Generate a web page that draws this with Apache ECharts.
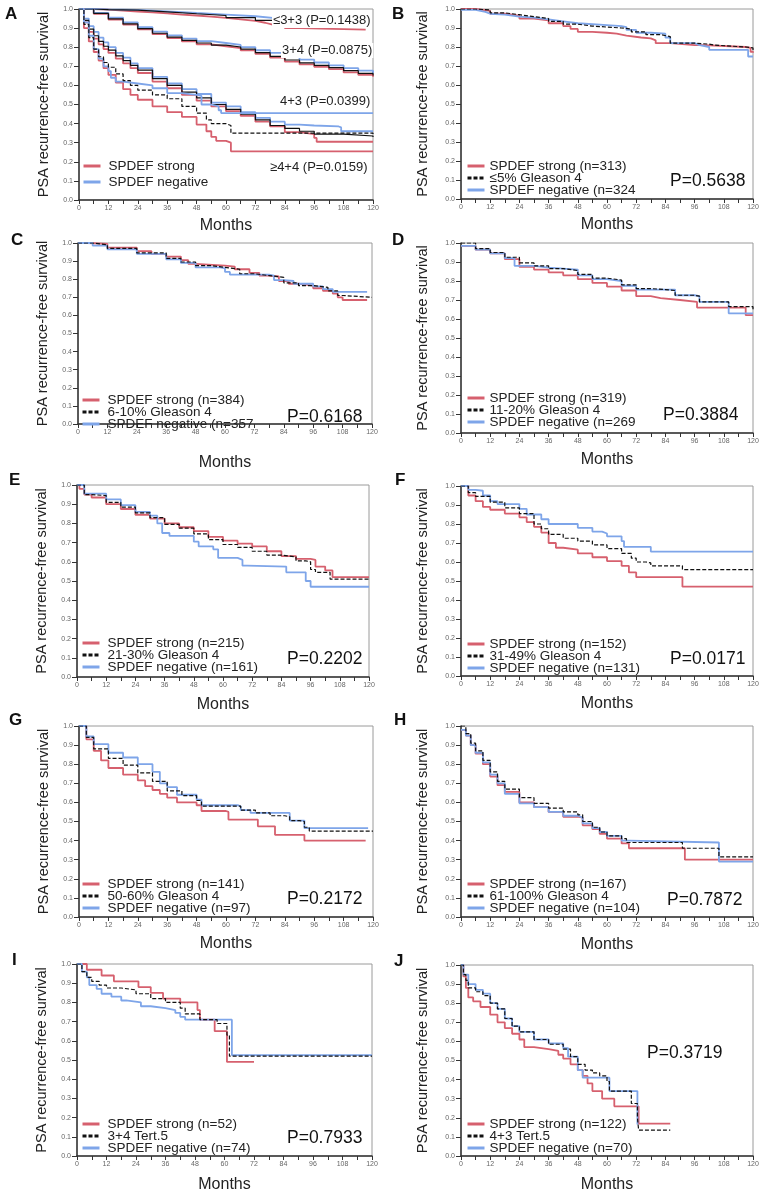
<!DOCTYPE html>
<html><head><meta charset="utf-8">
<script src="https://cdn.jsdelivr.net/npm/echarts@6/dist/echarts.min.js"></script>
<style>html,body{margin:0;padding:0;background:#fff}#c{width:765px;height:1195px}</style>
</head><body><div id="c"></div>
<script>
// ---------- tick labels ----------
const xTicks = [0, 12, 24, 36, 48, 60, 72, 84, 96, 108, 120];
const yTicks = [0.0, 0.1, 0.2, 0.3, 0.4, 0.5, 0.6, 0.7, 0.8, 0.9, 1.0];
const panelLetters = ['A', 'B', 'C', 'D', 'E', 'F', 'G', 'H', 'I', 'J'];

// ---------- panel A (Gleason groups) ----------
const aLabels = ['\u22643+3 (P=0.1438)', '3+4 (P=0.0875)', '4+3 (P=0.0399)', '\u22654+4 (P=0.0159)'];
const a33Strong = [[0,1],[6,0.997],[12,0.992],[18,0.987],[24,0.982],[30,0.977],[36,0.971],[42,0.966],[48,0.96],[54,0.953],[60,0.946],[66,0.938],[72,0.928],[76,0.918],[79,0.911],[84,0.9],[90,0.892],[117,0.89]];
const a33Neg = [[0,1],[6,0.998],[12,0.995],[24,0.988],[36,0.979],[48,0.971],[60,0.962],[72,0.952],[80,0.942],[95,0.935],[105,0.93]];
const a33All = [[0,1],[6,0.997],[12,0.994],[24,0.985],[36,0.975],[48,0.966],[60,0.955],[72,0.94],[80,0.928],[95,0.92],[110,0.915]];
const a34Strong = [[0,1],[6,0.975],[12,0.945],[18,0.918],[24,0.893],[30,0.868],[36,0.848],[42,0.83],[48,0.815],[54,0.805],[60,0.795],[66,0.783],[72,0.765],[78,0.745],[84,0.725],[90,0.71],[96,0.697],[102,0.685],[108,0.668],[114,0.655],[120,0.645]];
const a34All = [[0,1],[6,0.977],[12,0.948],[18,0.922],[24,0.897],[30,0.873],[36,0.853],[42,0.836],[48,0.822],[54,0.811],[60,0.801],[66,0.79],[72,0.772],[78,0.752],[84,0.733],[90,0.718],[96,0.705],[102,0.693],[108,0.677],[114,0.663],[120,0.652]];
const a34Neg = [[0,1],[6,0.98],[12,0.955],[18,0.93],[24,0.905],[30,0.882],[36,0.862],[42,0.845],[48,0.832],[54,0.822],[60,0.812],[66,0.8],[72,0.784],[78,0.77],[84,0.752],[90,0.735],[96,0.72],[102,0.705],[108,0.69],[114,0.677],[120,0.665]];
const a43Strong = [[0,1],[2,0.93],[4,0.88],[6,0.845],[8,0.815],[10,0.79],[12,0.77],[15,0.74],[18,0.715],[21,0.69],[24,0.665],[30,0.62],[36,0.585],[42,0.55],[48,0.52],[54,0.49],[60,0.465],[66,0.44],[72,0.41],[78,0.385],[84,0.355],[90,0.345],[96,0.325],[97,0.305],[120,0.305]];
const a43Neg = [[0,1],[2,0.95],[4,0.91],[6,0.88],[8,0.85],[10,0.825],[12,0.8],[15,0.77],[18,0.745],[21,0.715],[24,0.69],[30,0.645],[36,0.61],[42,0.58],[48,0.555],[54,0.51],[60,0.49],[66,0.46],[72,0.43],[78,0.41],[84,0.395],[90,0.39],[96,0.385],[106,0.38],[107,0.36],[120,0.36]];
const a43All = [[0,1],[2,0.94],[4,0.895],[6,0.86],[8,0.83],[10,0.805],[12,0.785],[15,0.755],[18,0.73],[21,0.705],[24,0.68],[30,0.635],[36,0.6],[42,0.565],[48,0.535],[54,0.5],[60,0.475],[66,0.45],[72,0.42],[78,0.39],[84,0.375],[90,0.36],[96,0.345],[108,0.335],[120,0.33]];
const a44Strong = [[0,1],[2,0.9],[4,0.83],[6,0.775],[8,0.73],[10,0.69],[12,0.655],[15,0.615],[18,0.58],[21,0.55],[24,0.525],[30,0.49],[36,0.46],[42,0.435],[48,0.395],[52,0.36],[54,0.33],[56,0.31],[60,0.3],[62,0.255],[120,0.255]];
const a44Neg = [[0,1],[2,0.93],[4,0.86],[6,0.79],[8,0.74],[10,0.7],[12,0.675],[13,0.64],[15,0.62],[18,0.61],[24,0.6],[30,0.585],[36,0.56],[42,0.55],[48,0.545],[50,0.5],[54,0.49],[57,0.47],[58,0.455],[120,0.455]];
const a44All = [[0,1],[2,0.92],[4,0.85],[6,0.79],[8,0.75],[10,0.72],[12,0.695],[15,0.66],[18,0.625],[21,0.6],[24,0.575],[30,0.55],[36,0.53],[42,0.49],[48,0.455],[52,0.42],[54,0.4],[60,0.39],[62,0.35],[120,0.345]];

// ---------- panels B-J: legend labels and P values ----------
const strongLabels = ['SPDEF strong (n=313)','SPDEF strong (n=384)','SPDEF strong (n=319)','SPDEF strong (n=215)','SPDEF strong (n=152)','SPDEF strong (n=141)','SPDEF strong (n=167)','SPDEF strong (n=52)','SPDEF strong (n=122)'];
const groupLabels = ['\u22645% Gleason 4','6-10% Gleason 4','11-20% Gleason 4','21-30% Gleason 4','31-49% Gleason 4','50-60% Gleason 4','61-100% Gleason 4','3+4 Tert.5','4+3 Tert.5'];
const negLabels = ['SPDEF negative (n=324','SPDEF negative (n=357','SPDEF negative (n=269','SPDEF negative (n=161)','SPDEF negative (n=131)','SPDEF negative (n=97)','SPDEF negative (n=104)','SPDEF negative (n=74)','SPDEF negative (n=70)'];
const pValues = ['P=0.5638','P=0.6168','P=0.3884','P=0.2202','P=0.0171','P=0.2172','P=0.7872','P=0.7933','P=0.3719'];

// B
const bStrong = [[0,1],[6,0.99],[12,0.975],[18,0.965],[24,0.95],[30,0.94],[36,0.925],[42,0.91],[45,0.895],[48,0.88],[54,0.875],[60,0.87],[64,0.86],[68,0.85],[74,0.845],[78,0.835],[80,0.82],[86,0.81],[96,0.81],[100,0.8],[117,0.795],[119,0.775],[120,0.77]];
const bAll = [[0,1],[6,0.995],[12,0.98],[18,0.97],[24,0.96],[30,0.95],[36,0.935],[42,0.92],[48,0.91],[54,0.905],[60,0.9],[66,0.895],[70,0.88],[76,0.865],[82,0.855],[86,0.82],[96,0.815],[102,0.81],[104,0.8],[117,0.795],[120,0.775]];
const bNeg = [[0,0.995],[6,0.985],[10,0.975],[12,0.97],[18,0.96],[24,0.955],[30,0.945],[36,0.935],[42,0.925],[48,0.915],[60,0.91],[66,0.905],[68,0.89],[72,0.875],[78,0.87],[84,0.85],[86,0.82],[96,0.81],[98,0.8],[102,0.785],[117,0.785],[118,0.75],[120,0.75]];
// C
const cStrong = [[0,1],[4,0.995],[12,0.975],[24,0.955],[30,0.94],[36,0.925],[42,0.905],[45,0.885],[48,0.875],[60,0.87],[64,0.855],[70,0.835],[74,0.82],[78,0.815],[82,0.79],[86,0.775],[90,0.765],[96,0.75],[100,0.735],[104,0.72],[106,0.7],[108,0.685],[118,0.685]];
const cAll = [[0,1],[6,0.99],[12,0.97],[24,0.945],[36,0.915],[42,0.895],[48,0.875],[54,0.865],[60,0.855],[66,0.83],[72,0.82],[78,0.81],[84,0.78],[90,0.765],[96,0.755],[102,0.735],[106,0.71],[108,0.7],[120,0.7]];
const cNeg = [[0,1],[6,0.985],[12,0.965],[24,0.94],[36,0.91],[42,0.89],[48,0.865],[58,0.86],[60,0.84],[62,0.825],[78,0.82],[80,0.795],[84,0.79],[88,0.775],[96,0.76],[100,0.745],[104,0.73],[118,0.73]];
// D
const dStrong = [[0,0.985],[6,0.965],[12,0.945],[18,0.915],[24,0.875],[30,0.86],[36,0.845],[42,0.83],[48,0.81],[54,0.79],[60,0.77],[66,0.75],[72,0.72],[78,0.71],[82,0.7],[90,0.69],[97,0.66],[117,0.62],[120,0.62]];
const dAll = [[0,1],[6,0.97],[12,0.95],[18,0.925],[24,0.895],[30,0.88],[36,0.865],[42,0.855],[48,0.835],[54,0.815],[60,0.805],[66,0.78],[72,0.76],[78,0.755],[84,0.75],[88,0.725],[96,0.72],[98,0.69],[110,0.665],[120,0.645]];
const dNeg = [[0,0.985],[6,0.965],[12,0.945],[18,0.92],[22,0.88],[30,0.87],[36,0.865],[42,0.86],[48,0.83],[54,0.81],[60,0.8],[66,0.775],[72,0.755],[88,0.725],[96,0.72],[98,0.69],[110,0.63],[120,0.63]];
// E
const eStrong = [[0,1],[1,0.98],[3,0.95],[6,0.935],[12,0.9],[18,0.875],[24,0.845],[30,0.825],[36,0.8],[42,0.78],[48,0.76],[54,0.73],[60,0.71],[66,0.695],[72,0.68],[78,0.655],[84,0.63],[90,0.615],[96,0.61],[98,0.575],[102,0.555],[105,0.52],[120,0.52]];
const eAll = [[0,1],[3,0.95],[6,0.945],[12,0.91],[18,0.885],[24,0.855],[30,0.83],[36,0.795],[42,0.775],[48,0.745],[54,0.715],[60,0.69],[66,0.675],[72,0.655],[78,0.635],[84,0.625],[90,0.605],[94,0.6],[96,0.56],[98,0.545],[104,0.51],[120,0.51]];
const eNeg = [[0,1],[3,0.955],[12,0.925],[18,0.895],[24,0.86],[30,0.84],[33,0.8],[35,0.75],[38,0.735],[48,0.705],[50,0.68],[56,0.665],[58,0.62],[66,0.61],[68,0.58],[70,0.575],[86,0.545],[94,0.5],[96,0.47],[120,0.47]];
// F
const fStrong = [[0,1],[3,0.95],[6,0.92],[9,0.89],[12,0.875],[18,0.855],[24,0.835],[27,0.81],[30,0.785],[33,0.755],[36,0.7],[39,0.675],[42,0.665],[48,0.645],[54,0.625],[60,0.605],[66,0.58],[69,0.545],[72,0.52],[91,0.47],[120,0.47]];
const fAll = [[0,1],[3,0.965],[6,0.945],[12,0.915],[18,0.885],[24,0.855],[30,0.8],[33,0.775],[36,0.745],[42,0.725],[48,0.71],[54,0.69],[60,0.67],[66,0.645],[70,0.62],[72,0.6],[76,0.595],[78,0.58],[91,0.56],[120,0.56]];
const fNeg = [[0,1],[3,0.98],[6,0.975],[9,0.95],[12,0.92],[15,0.905],[24,0.88],[27,0.85],[33,0.825],[36,0.8],[48,0.78],[54,0.76],[58,0.75],[60,0.735],[66,0.71],[67,0.68],[78,0.655],[120,0.655]];
// G
const gStrong = [[0,1],[3,0.93],[6,0.87],[9,0.82],[12,0.78],[18,0.745],[24,0.715],[27,0.685],[30,0.665],[33,0.645],[36,0.625],[40,0.6],[48,0.585],[50,0.555],[60,0.55],[61,0.51],[73,0.475],[80,0.43],[92,0.4],[117,0.4]];
const gAll = [[0,1],[3,0.94],[6,0.88],[12,0.83],[18,0.795],[24,0.755],[30,0.71],[36,0.66],[42,0.635],[48,0.61],[50,0.58],[60,0.58],[66,0.56],[72,0.545],[78,0.53],[84,0.525],[86,0.505],[90,0.5],[92,0.47],[94,0.45],[120,0.45]];
const gNeg = [[0,1],[3,0.945],[6,0.905],[12,0.86],[18,0.835],[24,0.8],[30,0.76],[33,0.7],[36,0.68],[40,0.64],[48,0.615],[50,0.585],[65,0.58],[66,0.56],[70,0.545],[86,0.505],[92,0.465],[118,0.465]];
// H
const hStrong = [[0,0.98],[2,0.95],[4,0.9],[6,0.855],[9,0.8],[12,0.735],[15,0.69],[18,0.655],[24,0.6],[30,0.575],[36,0.55],[42,0.525],[48,0.52],[50,0.48],[54,0.46],[57,0.435],[60,0.41],[66,0.385],[69,0.36],[92,0.3],[120,0.3]];
const hAll = [[0,1],[2,0.96],[4,0.91],[6,0.87],[9,0.82],[12,0.76],[15,0.71],[18,0.67],[24,0.625],[30,0.595],[36,0.57],[42,0.55],[48,0.535],[50,0.5],[54,0.47],[57,0.445],[60,0.425],[66,0.41],[68,0.39],[91,0.36],[106,0.315],[120,0.315]];
const hNeg = [[0,0.98],[2,0.95],[4,0.9],[6,0.86],[9,0.81],[12,0.745],[15,0.7],[18,0.645],[24,0.595],[30,0.575],[36,0.55],[42,0.53],[48,0.52],[50,0.49],[54,0.465],[57,0.445],[60,0.425],[66,0.4],[69,0.39],[106,0.29],[120,0.29]];
// I
const iStrong = [[0,1],[4,0.97],[10,0.94],[15,0.91],[25,0.88],[30,0.85],[35,0.82],[42,0.8],[49,0.76],[50,0.71],[56,0.65],[61,0.49],[72,0.49]];
const iAll = [[0,1],[2,0.96],[4,0.93],[6,0.91],[9,0.89],[12,0.875],[18,0.865],[24,0.845],[30,0.82],[36,0.8],[42,0.77],[44,0.74],[50,0.71],[57,0.69],[61,0.63],[62,0.52],[120,0.52]];
const iNeg = [[0,1],[2,0.96],[4,0.93],[5,0.89],[8,0.87],[10,0.845],[14,0.83],[18,0.81],[20,0.8],[26,0.78],[30,0.77],[36,0.76],[40,0.745],[42,0.725],[44,0.71],[63,0.525],[120,0.525]];
// J
const jStrong = [[0,1],[1,0.94],[2,0.88],[3,0.83],[5,0.81],[8,0.78],[12,0.74],[15,0.7],[18,0.67],[21,0.64],[24,0.61],[26,0.57],[30,0.56],[36,0.55],[40,0.53],[42,0.51],[45,0.48],[48,0.45],[50,0.42],[52,0.38],[54,0.34],[58,0.3],[63,0.26],[73,0.17],[86,0.17]];
const jAll = [[0,1],[1,0.95],[2,0.92],[3,0.88],[6,0.86],[9,0.84],[12,0.8],[15,0.77],[18,0.72],[21,0.68],[24,0.65],[30,0.61],[36,0.585],[42,0.56],[45,0.52],[48,0.48],[51,0.45],[54,0.435],[57,0.42],[60,0.39],[61,0.34],[70,0.275],[72.5,0.2],[73,0.135],[86,0.135]];
const jNeg = [[0,1],[1,0.95],[3,0.9],[6,0.87],[9,0.85],[12,0.8],[15,0.77],[18,0.72],[21,0.68],[24,0.65],[30,0.61],[36,0.59],[42,0.565],[44,0.52],[48,0.45],[50,0.41],[61,0.34],[72.5,0.165]];

const panelCurves = [
  null,
  [bStrong, bAll, bNeg], [cStrong, cAll, cNeg], [dStrong, dAll, dNeg],
  [eStrong, eAll, eNeg], [fStrong, fAll, fNeg], [gStrong, gAll, gNeg],
  [hStrong, hAll, hNeg], [iStrong, iAll, iNeg], [jStrong, jAll, jNeg]
];

// ---------- layout / style ----------
const FONT = '"Liberation Sans", Arial, Helvetica, sans-serif';
const RED = '#d6606e', BLUE = '#7ea5e9', BLACK = '#111111';
const grids = [
  {left:79, top:9, width:294, height:191},
  {left:461, top:9, width:292, height:190},
  {left:78, top:243, width:294, height:181},
  {left:461, top:243, width:292, height:190},
  {left:77, top:485, width:292, height:192},
  {left:461, top:486, width:292, height:190},
  {left:79, top:726, width:294, height:191},
  {left:461, top:726, width:292, height:191},
  {left:77, top:964, width:295, height:192},
  {left:461, top:965, width:292, height:191}
];
const monthsGap = [18, 18, 31, 19, 20, 20, 19, 20, 21, 21];
const letterPos = [[5,6],[392,6],[11,232],[392,232],[9,472],[395,472],[9,712],[394,712],[12,952],[394,953]];
const legendTop = [159, 159, 393, 391, 636, 637, 877, 877, 1117, 1117];
const pPos = [null,[670,172],[287,408],[663,406],[287,650],[670,650],[287,890],[667,891],[287,1129],[647,1044]];

const gridOpt = [], xAxes = [], yAxes = [], series = [], legends = [], titles = [];

grids.forEach((g, i) => {
  gridOpt.push(Object.assign({show:true, borderColor:'#9a9a9a', borderWidth:1, backgroundColor:'transparent'}, g));
  xAxes.push({
    gridIndex:i, type:'value', min:xTicks[0], max:xTicks[xTicks.length-1], interval:xTicks[1]-xTicks[0],
    axisLine:{show:true, onZero:false, lineStyle:{color:'#333', width:1.5}},
    axisTick:{show:true, length:4, lineStyle:{color:'#333', width:1}},
    minorTick:{show:true, splitNumber:2, length:4, lineStyle:{color:'#333', width:1}},
    splitLine:{show:false},
    axisLabel:{fontSize:7, color:'#666', margin:5, fontFamily:FONT},
    name:'Months', nameLocation:'middle', nameGap:monthsGap[i],
    nameTextStyle:{fontSize:16, color:'#222', fontFamily:FONT}
  });
  yAxes.push({
    gridIndex:i, type:'value', min:yTicks[0], max:yTicks[yTicks.length-1], interval:0.1,
    axisLine:{show:true, onZero:false, lineStyle:{color:'#333', width:1.5}},
    axisTick:{show:true, length:5, lineStyle:{color:'#333', width:1}},
    splitLine:{show:false},
    axisLabel:{fontSize:7, color:'#666', margin:6, fontFamily:FONT, formatter:v => v.toFixed(1)},
    name:'PSA recurrence-free survival', nameLocation:'middle', nameGap: i % 2 === 0 ? 28 : 31, nameRotate:90,
    nameTextStyle:{fontSize:14.5, color:'#222', fontFamily:FONT}
  });
  titles.push({text:panelLetters[i], left:letterPos[i][0], top:letterPos[i][1], padding:0,
    textStyle:{fontSize:17, fontWeight:'bold', color:'#111', fontFamily:FONT}});
});

function addLine(gi, name, data, color, dashed, width) {
  series.push({
    type:'line', name:name, xAxisIndex:gi, yAxisIndex:gi, data:data, step:'end',
    symbol:'none', showSymbol:false, silent:true, animation:false,
    lineStyle:{color:color, width:width || 1.8, type: dashed ? [4, 2] : 'solid'},
    itemStyle:{color:color}, z: dashed ? 3 : 2
  });
}

// Panel A
addLine(0, 'SPDEF strong', a33Strong, RED);
addLine(0, 'SPDEF negative', a33Neg, BLUE);
addLine(0, 'all \u22643+3', a33All, BLACK, false, 1.2);
addLine(0, 'SPDEF strong', a34Strong, RED);
addLine(0, 'SPDEF negative', a34Neg, BLUE);
addLine(0, 'all 3+4', a34All, BLACK, false, 1.2);
addLine(0, 'SPDEF strong', a43Strong, RED);
addLine(0, 'SPDEF negative', a43Neg, BLUE);
addLine(0, 'all 4+3', a43All, BLACK, false, 1.2);
addLine(0, 'SPDEF strong', a44Strong, RED);
addLine(0, 'SPDEF negative', a44Neg, BLUE);
addLine(0, 'all \u22654+4', a44All, BLACK, true, 1.2);

legends.push({
  left:82, top:legendTop[0], orient:'vertical', itemWidth:17, itemHeight:10, itemGap:2, padding:0,
  selectedMode:false, data:['SPDEF strong', 'SPDEF negative'],
  textStyle:{fontSize:13.5, color:'#222', fontFamily:FONT, padding:[0,0,0,3]},
  lineStyle:{width:3}, itemStyle:{opacity:0}
});
const aLabelPos = [[272,13],[281,43],[279,94],[269,160]];
aLabels.forEach((t, k) => titles.push({text:t, left:aLabelPos[k][0], top:aLabelPos[k][1], padding:[1,1],
  backgroundColor:'#ffffff', textStyle:{fontSize:13, fontWeight:'normal', color:'#222', fontFamily:FONT}}));

// Panels B-J
for (let i = 1; i < 10; i++) {
  const k = i - 1, c = panelCurves[i];
  addLine(i, strongLabels[k], c[0], RED);
  addLine(i, negLabels[k], c[2], BLUE);
  addLine(i, groupLabels[k], c[1], BLACK, true, 1.2);
  legends.push({
    left: i % 2 === 0 ? 81 : 466, top:legendTop[i], orient:'vertical', itemWidth:17, itemHeight:10, itemGap:-2, padding:0,
    selectedMode:false, data:[strongLabels[k], groupLabels[k], negLabels[k]],
    textStyle:{fontSize:13.5, color:'#222', fontFamily:FONT, padding:[0,0,0, i % 2 === 0 ? 3 : 0]},
    lineStyle:{width:3}, itemStyle:{opacity:0}
  });
  titles.push({text:pValues[k], left:pPos[i][0], top:pPos[i][1], padding:0,
    textStyle:{fontSize:17.5, fontWeight:'normal', color:'#111', fontFamily:FONT}});
}

const chart = echarts.init(document.getElementById('c'), null, {renderer:'canvas'});
chart.setOption({
  animation:false, backgroundColor:'#ffffff',
  title:titles, legend:legends, grid:gridOpt, xAxis:xAxes, yAxis:yAxes, series:series
});
</script></body></html>
